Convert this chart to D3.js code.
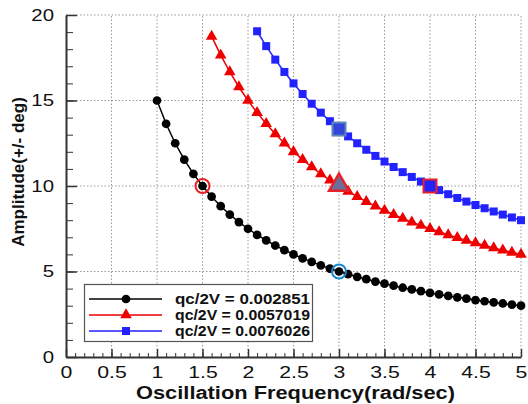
<!DOCTYPE html>
<html>
<head>
<meta charset="utf-8">
<script src="https://cdn.jsdelivr.net/npm/d3@7"></script>
<style>
  body { margin: 0; background: #fff; }
  svg { font-family: "Liberation Sans", Arial, sans-serif; }
  .grid line { stroke: #999; stroke-dasharray: 1.5 2; stroke-width: 1; }
  .tick text { font-size: 17px; fill: #111; }
</style>
</head>
<body>
<div id="container"></div>
<script>
// frequencies (rad/sec) and amplitudes (deg)
const freqBlack = [1.0,1.1,1.2,1.3,1.4,1.5,1.6,1.7,1.8,1.9,2.0,2.1,2.2,2.3,2.4,2.5,2.6,2.7,2.8,2.9,3.0,
                   3.1,3.2,3.3,3.4,3.5,3.6,3.7,3.8,3.9,4.0,4.1,4.2,4.3,4.4,4.5,4.6,4.7,4.8,4.9,5.0];
const ampBlack  = [15.00,13.64,12.50,11.54,10.71,10.00,9.38,8.82,8.33,7.89,7.50,7.14,6.82,6.52,6.25,6.00,
                   5.77,5.56,5.36,5.17,5.00,4.84,4.69,4.55,4.41,4.29,4.17,4.05,3.95,3.85,3.75,3.66,3.57,
                   3.49,3.41,3.33,3.26,3.19,3.13,3.06,3.00];
const freqRed   = [1.6,1.7,1.8,1.9,2.0,2.1,2.2,2.3,2.4,2.5,2.6,2.7,2.8,2.9,3.0,
                   3.1,3.2,3.3,3.4,3.5,3.6,3.7,3.8,3.9,4.0,4.1,4.2,4.3,4.4,4.5,4.6,4.7,4.8,4.9,5.0];
const ampRed    = [18.75,17.65,16.67,15.79,15.00,14.29,13.64,13.04,12.50,12.00,11.54,11.11,10.71,10.34,
                   10.00,9.68,9.38,9.09,8.82,8.57,8.33,8.11,7.89,7.69,7.50,7.32,7.14,6.98,6.82,6.67,
                   6.52,6.38,6.25,6.12,6.00];
const freqBlue  = [2.1,2.2,2.3,2.4,2.5,2.6,2.7,2.8,2.9,3.0,
                   3.1,3.2,3.3,3.4,3.5,3.6,3.7,3.8,3.9,4.0,4.1,4.2,4.3,4.4,4.5,4.6,4.7,4.8,4.9,5.0];
const ampBlue   = [19.05,18.18,17.39,16.67,16.00,15.38,14.81,14.29,13.79,13.33,12.90,12.50,12.12,11.76,
                   11.43,11.11,10.81,10.53,10.26,10.00,9.76,9.52,9.30,9.09,8.89,8.70,8.51,8.33,8.16,8.00];

const seriesNames = ['qc/2V = 0.002851', 'qc/2V = 0.0057019', 'qc/2V = 0.0076026'];
const xTicks = [0, 0.5, 1, 1.5, 2, 2.5, 3, 3.5, 4, 4.5, 5];
const yTicks = [0, 5, 10, 15, 20];

// highlighted points
const hlFreq = [1.5, 3.0, 3.0, 3.0, 4.0];
const hlAmp  = [10.00, 10.00, 5.00, 13.33, 10.00];

//---------------------
// SETUP
//---------------------

const W = 528, H = 404;
const margin = { left: 66, right: 7, top: 15, bottom: 47 };

const x = d3.scaleLinear().domain([0, 5]).range([margin.left, W - margin.right]);
const y = d3.scaleLinear().domain([0, 20]).range([H - margin.bottom, margin.top]);

const svg = d3.select('#container').append('svg')
  .attr('width', W).attr('height', H);

// grid
svg.append('g').attr('class', 'grid')
  .selectAll('line').data(xTicks.slice(1)).enter().append('line')
  .attr('x1', d => x(d)).attr('x2', d => x(d))
  .attr('y1', y(0)).attr('y2', y(20));
svg.append('g').attr('class', 'grid')
  .selectAll('line').data(yTicks.slice(1)).enter().append('line')
  .attr('x1', x(0)).attr('x2', x(5))
  .attr('y1', d => y(d)).attr('y2', d => y(d));

// minor ticks
const axisColor = '#333';
svg.append('g')
  .attr('transform', `translate(0, ${y(0)})`)
  .call(d3.axisBottom(x).tickValues(d3.range(0, 51).map(i => i / 10)).tickSize(-4).tickFormat(''))
  .call(g => g.select('.domain').remove())
  .selectAll('line').attr('stroke', axisColor);
svg.append('g')
  .attr('transform', `translate(${x(0)}, 0)`)
  .call(d3.axisLeft(y).tickValues(d3.range(0, 21)).tickSize(-7).tickFormat(''))
  .call(g => g.select('.domain').remove())
  .selectAll('line').attr('stroke', axisColor);

// major axes
const xAxis = svg.append('g')
  .attr('transform', `translate(0, ${y(0)})`)
  .call(d3.axisBottom(x).tickValues(xTicks).tickSize(-8).tickSizeOuter(0).tickPadding(9)
    .tickFormat(d => d3.format('')(d)));
xAxis.select('.domain').attr('stroke', axisColor).attr('stroke-width', 2);
xAxis.selectAll('line').attr('stroke', axisColor).attr('stroke-width', 1.5);
// labels in the source image are horizontally stretched
xAxis.selectAll('text').attr('transform', 'scale(1.25,1)');

const yAxis = svg.append('g')
  .attr('transform', `translate(${x(0)}, 0)`)
  .call(d3.axisLeft(y).tickValues(yTicks).tickSize(-11).tickSizeOuter(0).tickPadding(13));
yAxis.select('.domain').attr('stroke', axisColor).attr('stroke-width', 2);
yAxis.selectAll('line').attr('stroke', axisColor).attr('stroke-width', 1.5);
yAxis.selectAll('text').attr('x', 0).attr('transform', 'translate(-12,0) scale(1.2,1)');

//---------------------
// SERIES
//---------------------

const series = [
  { fx: freqBlack, amp: ampBlack, color: '#000', shape: d3.symbolCircle, size: 60 },
  { fx: freqRed,   amp: ampRed,   color: '#e00', shape: d3.symbolTriangle, size: 58 },
  { fx: freqBlue,  amp: ampBlue,  color: '#2222ff', shape: d3.symbolSquare, size: 64 }
];

const line = d3.line().x(d => x(d[0])).y(d => y(d[1]));

series.forEach(s => {
  const pts = s.fx.map((f, i) => [f, s.amp[i]]);
  svg.append('path').datum(pts)
    .attr('d', line).attr('fill', 'none')
    .attr('stroke', s.color).attr('stroke-width', 1.5);
  svg.append('g').selectAll('path').data(pts).enter().append('path')
    .attr('transform', d => `translate(${x(d[0])}, ${y(d[1])})`)
    .attr('d', d3.symbol().type(s.shape).size(s.size))
    .attr('fill', s.color);
});

//---------------------
// HIGHLIGHTS
//---------------------

const hl = svg.append('g');
// red circle on black at 1.5
hl.append('circle').attr('cx', x(hlFreq[0])).attr('cy', y(hlAmp[0])).attr('r', 7)
  .attr('fill', 'none').attr('stroke', '#e8202a').attr('stroke-width', 2);
// red triangle on red at 3
hl.append('path')
  .attr('transform', `translate(${x(hlFreq[1])}, ${y(hlAmp[1]) - 1})`)
  .attr('d', d3.symbol().type(d3.symbolTriangle).size(170))
  .attr('fill', '#6a6f9a').attr('stroke', '#e8202a').attr('stroke-width', 2.5);
// blue circle on black at 3
hl.append('circle').attr('cx', x(hlFreq[2])).attr('cy', y(hlAmp[2])).attr('r', 7)
  .attr('fill', 'none').attr('stroke', '#1a8ad0').attr('stroke-width', 2);
// steel blue square on blue at 3
hl.append('rect').attr('x', x(hlFreq[3]) - 6.5).attr('y', y(hlAmp[3]) - 6.5)
  .attr('width', 13).attr('height', 13)
  .attr('fill', '#3344dd').attr('stroke', '#5a86b8').attr('stroke-width', 2);
// red square on blue at 4
hl.append('rect').attr('x', x(hlFreq[4]) - 6.5).attr('y', y(hlAmp[4]) - 6.5)
  .attr('width', 13).attr('height', 13)
  .attr('fill', '#2222ff').attr('stroke', '#e8202a').attr('stroke-width', 2);

//---------------------
// LEGEND
//---------------------

const lg = svg.append('g');
lg.append('rect').attr('x', 84.5).attr('y', 284.5).attr('width', 228).attr('height', 57)
  .attr('fill', '#fff').attr('stroke', '#555').attr('stroke-width', 1.2);

series.forEach((s, i) => {
  const ly = 299 + i * 16;
  lg.append('line').attr('x1', 89).attr('x2', 162).attr('y1', ly).attr('y2', ly)
    .attr('stroke', s.color).attr('stroke-width', 1.5);
  lg.append('path').attr('transform', `translate(126, ${ly})`)
    .attr('d', d3.symbol().type(s.shape).size(s.size)).attr('fill', s.color);
  lg.append('text').attr('x', 175).attr('y', ly + 5)
    .attr('font-size', 14.5).attr('font-weight', 'bold').attr('fill', '#111')
    .attr('textLength', 135).attr('lengthAdjust', 'spacingAndGlyphs')
    .text(seriesNames[i]);
});

//---------------------
// TITLES
//---------------------

svg.append('text')
  .attr('x', 136).attr('y', 399)
  .attr('font-size', 18).attr('font-weight', 'bold').attr('fill', '#111')
  .attr('textLength', 319).attr('lengthAdjust', 'spacingAndGlyphs')
  .text('Oscillation Frequency(rad/sec)');

svg.append('text')
  .attr('transform', `translate(24, ${y(10) - 14}) rotate(-90)`)
  .attr('text-anchor', 'middle').attr('font-size', 17).attr('font-weight', 'bold').attr('fill', '#111')
  .text('Amplitude(+/- deg)');
</script>
</body>
</html>
